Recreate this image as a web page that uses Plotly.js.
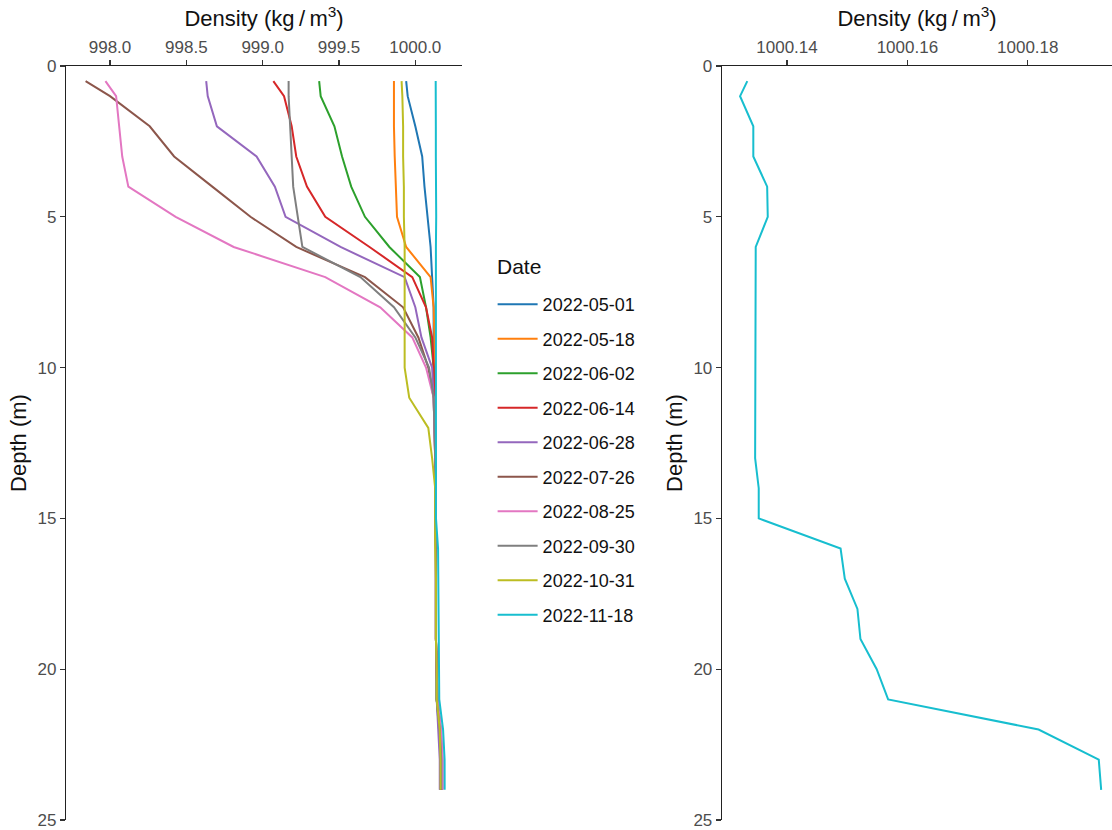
<!DOCTYPE html>
<html>
<head>
<meta charset="utf-8">
<script src="https://cdn.plot.ly/plotly-3.0.1.min.js"></script>
<style>html,body{margin:0;padding:0;background:#fff;}#chart{width:1112px;height:830px;}</style>
</head>
<body>
<div id="chart"></div>
<script>
// Depths (m)
const depths = [0.5, 1, 2, 3, 4, 5, 6, 7, 8, 9, 10, 11, 12, 13, 14, 15, 16, 17, 18, 19, 20, 21, 22, 23, 24];

const dates = ["2022-05-01", "2022-05-18", "2022-06-02", "2022-06-14", "2022-06-28",
               "2022-07-26", "2022-08-25", "2022-09-30", "2022-10-31", "2022-11-18"];

const colors = ["#1f77b4", "#ff7f0e", "#2ca02c", "#d62728", "#9467bd",
                "#8c564b", "#e377c2", "#7f7f7f", "#bcbd22", "#17becf"];

// Density (kg/m3) per date
const d20220501 = [999.94, 999.95, 1000.00, 1000.045, 1000.06, 1000.08, 1000.10, 1000.11, 1000.12, 1000.12, 1000.125, 1000.125, 1000.13, 1000.13, 1000.13, 1000.13, 1000.135, 1000.135, 1000.135, 1000.135, 1000.14, 1000.14, 1000.155, 1000.165, 1000.165];
const d20220518 = [999.86, 999.86, 999.86, 999.865, 999.87, 999.88, 999.94, 1000.10, 1000.12, 1000.125, 1000.125, 1000.13, 1000.13, 1000.13, 1000.13, 1000.13, 1000.135, 1000.135, 1000.135, 1000.135, 1000.14, 1000.14, 1000.16, 1000.17, 1000.17];
const d20220602 = [999.37, 999.38, 999.47, 999.52, 999.58, 999.67, 999.83, 1000.03, 1000.07, 1000.10, 1000.12, 1000.125, 1000.13, 1000.13, 1000.13, 1000.13, 1000.135, 1000.135, 1000.135, 1000.135, 1000.14, 1000.14, 1000.16, 1000.165, 1000.165];
const d20220614 = [999.07, 999.14, 999.19, 999.22, 999.29, 999.41, 999.70, 999.98, 1000.07, 1000.11, 1000.12, 1000.125, 1000.13, 1000.13, 1000.13, 1000.135, 1000.135, 1000.135, 1000.135, 1000.135, 1000.14, 1000.145, 1000.165, 1000.175, 1000.175];
const d20220628 = [998.63, 998.64, 998.70, 998.96, 999.08, 999.15, 999.51, 999.93, 1000.00, 1000.04, 1000.11, 1000.12, 1000.125, 1000.13, 1000.13, 1000.13, 1000.135, 1000.135, 1000.135, 1000.135, 1000.14, 1000.14, 1000.15, 1000.16, 1000.16];
const d20220726 = [997.84, 998.00, 998.26, 998.42, 998.67, 998.92, 999.22, 999.67, 999.92, 1000.02, 1000.085, 1000.12, 1000.125, 1000.13, 1000.13, 1000.13, 1000.135, 1000.135, 1000.135, 1000.135, 1000.14, 1000.145, 1000.165, 1000.17, 1000.17];
const d20220825 = [997.97, 998.04, 998.06, 998.08, 998.12, 998.43, 998.81, 999.41, 999.77, 999.98, 1000.07, 1000.12, 1000.125, 1000.13, 1000.13, 1000.135, 1000.135, 1000.135, 1000.135, 1000.135, 1000.14, 1000.145, 1000.17, 1000.18, 1000.18];
const d20220930 = [999.17, 999.17, 999.18, 999.19, 999.20, 999.23, 999.26, 999.64, 999.86, 1000.00, 1000.09, 1000.12, 1000.125, 1000.13, 1000.13, 1000.13, 1000.135, 1000.135, 1000.135, 1000.135, 1000.14, 1000.14, 1000.16, 1000.17, 1000.17];
const d20221031 = [999.91, 999.915, 999.92, 999.92, 999.925, 999.925, 999.93, 999.93, 999.93, 999.93, 999.93, 999.96, 1000.085, 1000.11, 1000.13, 1000.13, 1000.13, 1000.135, 1000.135, 1000.135, 1000.14, 1000.14, 1000.16, 1000.165, 1000.165];
const d20221118 = [1000.1334, 1000.1322, 1000.1344, 1000.1344, 1000.1367, 1000.1368, 1000.1348, 1000.1348, 1000.1348, 1000.1348, 1000.1347, 1000.1347, 1000.1347, 1000.1347, 1000.1353, 1000.1353, 1000.1489, 1000.1496, 1000.1517, 1000.1522, 1000.1549, 1000.1568, 1000.1818, 1000.1918, 1000.1922];

const series = [d20220501, d20220518, d20220602, d20220614, d20220628,
                d20220726, d20220825, d20220930, d20221031, d20221118];

const leftTicks = [998.0, 998.5, 999.0, 999.5, 1000.0];
const rightTicks = [1000.14, 1000.16, 1000.18];
const depthTicks = [0, 5, 10, 15, 20, 25];

const FONT = "Liberation Sans, Arial, sans-serif";

const traces = series.map((vals, i) => ({
  type: "scatter", mode: "lines",
  x: vals, y: depths,
  xaxis: "x", yaxis: "y",
  name: dates[i],
  legendgroup: "g" + i,
  line: {color: colors[i], width: 2},
  hoverinfo: "x+y+name"
}));

traces.push({
  type: "scatter", mode: "lines",
  x: d20221118, y: depths,
  xaxis: "x2", yaxis: "y2",
  name: dates[9],
  showlegend: false,
  line: {color: colors[9], width: 2}
});

const titleText = "Density (kg\u2009/\u2009m<sup>3</sup>)";

const axisCommon = {
  showgrid: false, zeroline: false, showline: true,
  linecolor: "#222", linewidth: 1.3,
  ticks: "outside", ticklen: 5, tickcolor: "#333", tickwidth: 1.2,
  tickfont: {family: FONT, size: 17, color: "#4d4d4d"}
};

const layout = {
  width: 1112, height: 830,
  margin: {l: 0, r: 0, t: 66, b: 10, pad: 0},
  paper_bgcolor: "#fff", plot_bgcolor: "#fff",
  font: {family: FONT},
  showlegend: true,
  legend: {
    x: 0.443, y: 0.708, xanchor: "left", yanchor: "top",
    font: {family: FONT, size: 18, color: "#111"},
    tracegroupgap: 8.1,
    itemwidth: 40,
    bgcolor: "rgba(0,0,0,0)"
  },
  annotations: [{
    text: "Date", xref: "paper", yref: "paper",
    x: 0.4451, y: 0.7347, xanchor: "left", yanchor: "middle",
    showarrow: false, font: {family: FONT, size: 21, color: "#111"}
  }],
  xaxis: Object.assign({}, axisCommon, {
    domain: [0.0594, 0.4155],
    anchor: "y", side: "top",
    range: [997.712, 1000.306],
    tickvals: leftTicks, tickformat: ".1f",
    title: {text: titleText, font: {family: FONT, size: 22, color: "#111"}, standoff: 5}
  }),
  yaxis: Object.assign({}, axisCommon, {
    domain: [0, 1], anchor: "x",
    range: [25, 0],
    tickvals: depthTicks,
    title: {text: "Depth (m)", font: {family: FONT, size: 22, color: "#111"}, standoff: 4}
  }),
  xaxis2: Object.assign({}, axisCommon, {
    domain: [0.6493, 1.0],
    anchor: "y2", side: "top",
    range: [1000.1292, 1000.194],
    tickvals: rightTicks, tickformat: ".2f",
    title: {text: titleText, font: {family: FONT, size: 22, color: "#111"}, standoff: 5}
  }),
  yaxis2: Object.assign({}, axisCommon, {
    domain: [0, 1], anchor: "x2",
    range: [25, 0],
    tickvals: depthTicks,
    title: {text: "Depth (m)", font: {family: FONT, size: 22, color: "#111"}, standoff: 4}
  })
};

Plotly.newPlot("chart", traces, layout, {displayModeBar: false, staticPlot: true});
</script>
</body>
</html>
